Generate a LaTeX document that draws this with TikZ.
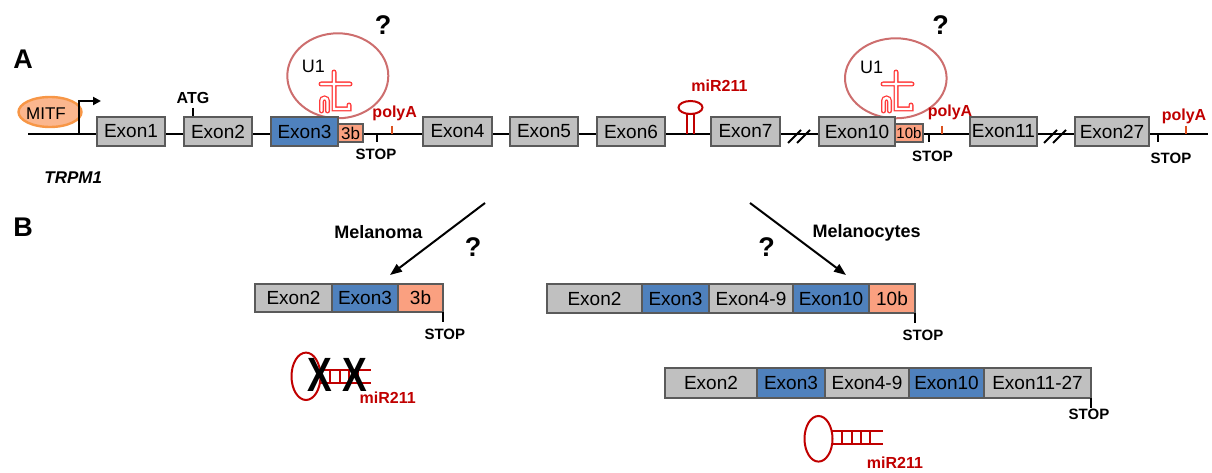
\documentclass[tikz,border=0pt]{standalone}
\usepackage{fontspec}
\setmainfont{Liberation Sans}
\usetikzlibrary{arrows.meta,shapes.geometric}

\definecolor{exgrey}{RGB}{192,192,192}
\definecolor{exedge}{RGB}{90,90,90}
\definecolor{exblue}{RGB}{79,129,189}
\definecolor{exsalmon}{RGB}{250,160,128}
\definecolor{rnared}{RGB}{192,0,0}
\definecolor{polytick}{RGB}{220,80,30}
\definecolor{u1ring}{RGB}{205,110,110}
\definecolor{u1red}{RGB}{255,60,60}
\definecolor{mitffill}{RGB}{251,182,142}
\definecolor{mitfedge}{RGB}{247,150,70}

\newcommand\setfs[1]{\fontsize{#1}{#1}\selectfont}
% outline of the U1 snRNA glyph, stem at x = #1 (y grows downwards)
\newcommand\uonepath[1]{%
  (#1-13,84) -- (#1+16,84)
  (#1,72) -- (#1,109) -- (#1+15,109) -- (#1+15,105)
  (#1-12.5,111) -- (#1-12.5,101) arc[start angle=180,end angle=360,radius=3] -- (#1-6.5,111)}

\begin{document}
\begin{tikzpicture}[x=1pt,y=-1pt,
  every node/.style={inner sep=0pt,outer sep=0pt},
  exon/.style={draw=exedge,line width=1.4pt,fill=exgrey,font=\setfs{19},minimum height=29pt},
  blueexon/.style={exon,fill=exblue},
  tailexon/.style={exon,fill=exsalmon},
  mexon/.style={exon,line width=1.1pt},
  mblue/.style={mexon,fill=exblue},
  mtail/.style={mexon,fill=exsalmon},
  dna/.style={line width=2pt,black},
  tick/.style={line width=2pt,black},
  ptick/.style={line width=2pt,polytick},
  stoplbl/.style={font=\bfseries\setfs{15},anchor=base},
  polylbl/.style={font=\bfseries\setfs{16},text=rnared,anchor=base},
  mirlbl/.style={font=\bfseries\setfs{16},text=rnared,anchor=base},
  panel/.style={font=\bfseries\setfs{27},anchor=base},
  qmark/.style={font=\bfseries\setfs{27},anchor=base},
  cond/.style={font=\bfseries\setfs{18},anchor=base},
  u1ringstyle/.style={draw=u1ring,line width=2pt},
  hairpin/.style={draw=rnared,line width=2pt},
  fate/.style={line width=2pt,-{Triangle[length=12pt,width=9pt]}},
]
\useasboundingbox (0,0) rectangle (1212,473);

% ---------- panel A: gene model ----------
\coordinate (lineL) at (28,134);
\coordinate (lineR) at (1208,134);
\draw[dna] (lineL) -- (lineR);

% U1 recognition circles
\draw[u1ringstyle] (337.8,75.8) ellipse[x radius=50.5,y radius=42.5];
\draw[u1ringstyle] (895.8,78.3) ellipse[x radius=50.8,y radius=40];
\foreach \sx in {334,896}{
  \draw[u1red,line width=5pt,line cap=round] \uonepath{\sx};
  \draw[white,line width=2.4pt,line cap=round] \uonepath{\sx};
}
\node[font=\setfs{18},anchor=base] (u1a) at (313.3,72.7) {U1};
\node[font=\setfs{18},anchor=base] (u1b) at (871.7,73.3) {U1};
\node[qmark] (qa1) at (383,35) {?};
\node[qmark] (qa2) at (940.5,35) {?};

% promoter and MITF
\node[ellipse,draw=mitfedge,line width=2.4pt,fill=mitffill,minimum width=63pt,minimum height=30pt] (mitf) at (50,112) {};
\node[font=\setfs{17},anchor=base] (mitftxt) at (46,119.3) {MITF};
\coordinate (tss) at (79,134);
\coordinate (tssTop) at (79,101);
\coordinate (tssTip) at (101,101);
\draw[line width=2pt,-{Triangle[length=8pt,width=8pt]}] (tss) -- (tssTop) -- (tssTip);

% ATG
\draw[tick] (193,108) -- (193,117);
\node[font=\bfseries\setfs{16},anchor=base] (atg) at (193,104) {ATG};

% exons
\node[exon,minimum width=68pt] (ex1) at (131,131.5) {Exon1};
\node[exon,minimum width=68pt] (ex2) at (218,131.5) {Exon2};
\node[blueexon,minimum width=67pt] (ex3) at (304.5,131.5) {Exon3};
\node[tailexon,minimum width=25pt,minimum height=18pt,font=\setfs{17}] (ex3b) at (350.5,133) {3b};
\node[exon,minimum width=69pt] (ex4) at (457.5,131.5) {Exon4};
\node[exon,minimum width=68pt] (ex5) at (544,131.5) {Exon5};
\node[exon,minimum width=68pt] (ex6) at (631,131.5) {Exon6};
\node[exon,minimum width=69pt] (ex7) at (745.5,131.5) {Exon7};
\node[exon,minimum width=76pt] (ex10) at (857,131.5) {Exon10};
\node[tailexon,minimum width=28pt,minimum height=18pt,font=\setfs{15}] (ex10b) at (909,133) {10b};
\node[exon,minimum width=67pt] (ex11) at (1003.5,131.5) {Exon11};
\node[exon,minimum width=74pt] (ex27) at (1112,131.5) {Exon27};

% stop codons and polyA sites
\draw[tick] (377,134) -- (377,142);
\node[stoplbl] (stop1) at (376,159.3) {STOP};
\draw[ptick] (392,126) -- (392,134);
\node[polylbl] (poly1) at (394.7,117.3) {polyA};

\draw[tick] (929,134) -- (929,142);
\node[stoplbl] (stop2) at (932.5,161.7) {STOP};
\draw[ptick] (942,126) -- (942,134);
\node[polylbl] (poly2) at (950,116.7) {polyA};

\draw[tick] (1158,134) -- (1158,142);
\node[stoplbl] (stop3) at (1171,163.3) {STOP};
\draw[ptick] (1186,126) -- (1186,134);
\node[polylbl] (poly3) at (1184,120.7) {polyA};

% intronic miR211 hairpin
\draw[hairpin] (687,114) -- (687,134) (694,114) -- (694,134);
\draw[hairpin] (690.5,107.5) ellipse[x radius=12,y radius=6.5];
\node[mirlbl] (mirA) at (719.5,91.7) {miR211};

% breaks in the gene
\draw[line width=2pt] (788,143) -- (801,130) (797,143) -- (810,130);
\draw[line width=2pt] (1044,143) -- (1057,130) (1053,143) -- (1066,130);

\node[font=\bfseries\itshape\setfs{17},anchor=base] (gene) at (73.3,184) {TRPM1};
\node[panel] (pA) at (23,68.3) {A};

% ---------- panel B: transcripts ----------
\node[panel] (pB) at (23,236.7) {B};

\coordinate (melFrom) at (485,203);
\coordinate (melTo) at (390,275);
\draw[fate] (melFrom) -- (melTo);
\node[cond] (mel) at (378.3,238.3) {Melanoma};
\node[qmark] (qb1) at (473,256.7) {?};

\coordinate (mcFrom) at (750,203);
\coordinate (mcTo) at (846,275);
\draw[fate] (mcFrom) -- (mcTo);
\node[cond] (mc) at (866.7,237.7) {Melanocytes};
\node[qmark] (qb2) at (766.7,256.7) {?};

% melanoma transcript
\node[mexon,minimum width=77pt,minimum height=28pt] (m2) at (293.5,298) {Exon2};
\node[mblue,minimum width=66pt,minimum height=28pt] (m3) at (365,298) {Exon3};
\node[mtail,minimum width=45pt,minimum height=28pt] (m3b) at (420.5,298) {3b};
\draw[tick] (443.3,312) -- (443.3,322);
\node[stoplbl] (stop4) at (444.8,339) {STOP};

% lost miR211
\draw[hairpin] (306,376.3) ellipse[x radius=14.5,y radius=23.7];
\draw[hairpin] (319,370) -- (370.5,370) (319,383) -- (370.5,383);
\foreach \rx in {329.5,339.5,348.5,357.5}{\draw[hairpin] (\rx,370) -- (\rx,383);}
\node[font=\bfseries\setfs{37},anchor=base,yscale=1.3] (xa) at (320,391.7) {X};
\node[font=\bfseries\setfs{37},anchor=base,yscale=1.3] (xb) at (355,391.7) {X};
\node[mirlbl] (mirB) at (387.7,403.3) {miR211};

% melanocyte transcript with 10b
\node[mexon,minimum width=95pt] (c2) at (594.5,298.5) {Exon2};
\node[mblue,minimum width=67pt] (c3) at (675.5,298.5) {Exon3};
\node[mexon,minimum width=84pt] (c49) at (751,298.5) {Exon4-9};
\node[mblue,minimum width=76pt] (c10) at (831,298.5) {Exon10};
\node[mtail,minimum width=46pt] (c10b) at (892,298.5) {10b};
\draw[tick] (915,313) -- (915,323);
\node[stoplbl] (stop5) at (923,340) {STOP};

% full-length transcript
\node[mexon,minimum width=92pt,minimum height=30pt] (f2) at (711,383) {Exon2};
\node[mblue,minimum width=68pt,minimum height=30pt] (f3) at (791,383) {Exon3};
\node[mexon,minimum width=84pt,minimum height=30pt] (f49) at (867,383) {Exon4-9};
\node[mblue,minimum width=75pt,minimum height=30pt] (f10) at (946.5,383) {Exon10};
\node[mexon,minimum width=107pt,minimum height=30pt] (f1127) at (1037.5,383) {Exon11-27};
\draw[tick] (1091,398) -- (1091,408);
\node[stoplbl] (stop6) at (1089,419.3) {STOP};

% mature miR211 hairpin
\draw[hairpin] (818.5,438.8) ellipse[x radius=14,y radius=22.8];
\draw[hairpin] (832,430.7) -- (882.7,430.7) (832,444.3) -- (882.7,444.3);
\foreach \rx in {841.7,851.7,860.7,870}{\draw[hairpin] (\rx,430.7) -- (\rx,444.3);}
\node[mirlbl] (mirC) at (895,468.3) {miR211};
\end{tikzpicture}
\end{document}
